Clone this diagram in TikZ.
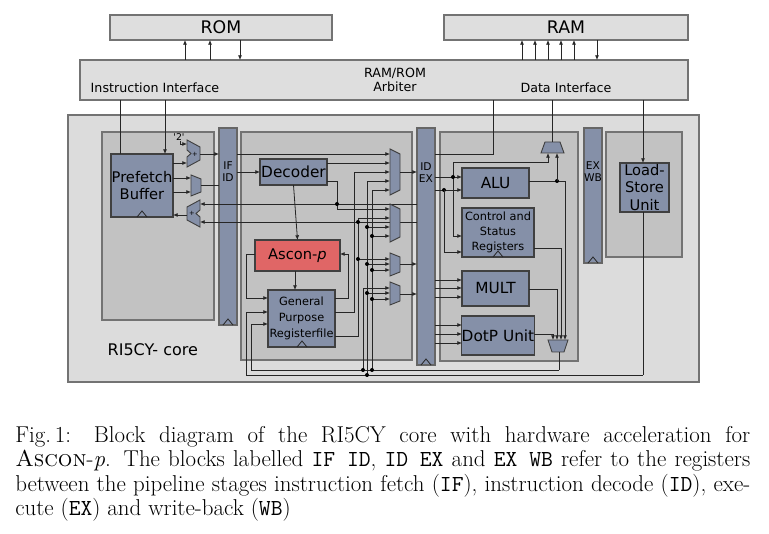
\documentclass[tikz,border=0pt]{standalone}
\usepackage{fontspec}
\newfontfamily\dv{DejaVu Sans}
\usetikzlibrary{arrows.meta}
\definecolor{blk}{HTML}{8590A8}
\definecolor{stg}{HTML}{C2C2C2}
\definecolor{core}{HTML}{DCDCDC}
\definecolor{asc}{HTML}{E06666}
\definecolor{mem}{HTML}{DEDEDE}
\begin{document}
\begin{tikzpicture}[x=0.75pt,y=-0.75pt,
  blkst/.style={draw=black!75,fill=blk,line width=0.8pt,inner sep=0pt,outer sep=0pt,align=center,font=\dv\fontsize{10}{12}\selectfont},
  regst/.style={draw=black!60,fill=blk,line width=0.8pt,inner sep=0pt,outer sep=0pt},
  stgst/.style={draw=black!55,fill=stg,line width=0.8pt,inner sep=0pt,outer sep=0pt},
  memst/.style={draw=black!55,fill=mem,line width=0.8pt,inner sep=0pt,outer sep=0pt,font=\dv\fontsize{13}{15}\selectfont},
  w/.style={line width=0.6pt,black!85},
  a/.style={w,-{Latex[length=3.5pt,width=3pt]}},
  mx/.style={draw=black!75,fill=blk,line width=0.7pt},
  dot/.style={circle,fill=black,inner sep=0pt,minimum size=3pt},
  lbl/.style={font=\dv\fontsize{8}{9}\selectfont,align=center,inner sep=0pt}]
\newcommand\bx[7]{\node[#6,minimum width={(#4-#2)*0.75pt},minimum height={(#5-#3)*0.75pt}] (#1) at ({(#2+#4)/2},{(#3+#5)/2}) {#7};}
\newcommand\clk[2]{\draw[w] (#1-5,#2) -- (#1,#2-6) -- (#1+5,#2);}
\useasboundingbox (0,0) rectangle (769,534);
\fill[white] (0,0) rectangle (769,534);
% memories
\bx{rom}{110}{15}{332}{40}{memst}{ROM}
\bx{ram}{444}{15}{688}{40}{memst}{RAM}
\bx{arb}{80}{60}{688}{100}{memst}{}
\node[lbl,font=\dv\fontsize{9.5}{11}\selectfont] at (395,80) {RAM/ROM\\Arbiter};
\node[lbl,font=\dv\fontsize{9.5}{11}\selectfont] at (155,88) {Instruction Interface};
\node[lbl,font=\dv\fontsize{9.5}{11}\selectfont] at (566,88) {Data Interface};
\foreach \x in {185,210} \draw[a] (\x,60) -- (\x,40);
\draw[a] (240,40) -- (240,60);
\foreach \x in {522,535,548,561,574} \draw[a] (\x,60) -- (\x,40);
\draw[a] (597,40) -- (597,60);
% core
\bx{core}{68}{115}{699}{382}{stgst,fill=core}{}
\node[anchor=west,font=\dv\fontsize{12}{14}\selectfont] at (103,350) {RI5CY- core};
\bx{ifs}{102}{132}{214}{320}{stgst}{}
\bx{ids}{241}{132}{412}{360}{stgst}{}
\bx{exs}{440}{132}{578}{361}{stgst}{}
\bx{wbs}{606}{132}{682}{257}{stgst}{}
% pipeline registers
\bx{ifid}{219}{128}{237}{325}{regst}{}
\node[lbl] at (228,172) {IF\\ID};
\clk{228}{325}
\bx{idex}{417}{128}{435}{365}{regst}{}
\node[lbl] at (426,173) {ID\\EX};
\clk{426}{365}
\bx{exwb}{584}{128}{602}{263}{regst}{}
\node[lbl] at (593,172) {EX\\WB};
\clk{593}{263}
% blocks
\bx{pf}{111}{154}{173}{217}{blkst,font=\dv\fontsize{11}{13}\selectfont}{Prefetch\\Buffer}
\clk{142}{217}
\bx{dec}{260}{159}{327}{185}{blkst,font=\dv\fontsize{11.5}{13}\selectfont}{Decoder}
\bx{ascon}{255}{240}{340}{271}{blkst,fill=asc,font=\dv\fontsize{11}{13}\selectfont}{Ascon-\textit{p}}
\bx{gpr}{268}{290}{335}{347}{blkst,font=\dv\fontsize{8.5}{12}\selectfont}{General\\Purpose\\Registerfile}
\clk{302}{347}
\bx{alu}{462}{168}{529}{198}{blkst,font=\dv\fontsize{11.5}{13}\selectfont}{ALU}
\bx{csr}{462}{208}{534}{257}{blkst,font=\dv\fontsize{8.5}{11}\selectfont}{Control and\\Status\\Registers}
\clk{498}{257}
\bx{mult}{462}{271}{529}{306}{blkst,font=\dv\fontsize{11.5}{13}\selectfont}{MULT}
\bx{dotp}{462}{316}{534}{355}{blkst,font=\dv\fontsize{11.5}{13}\selectfont}{DotP Unit}
\bx{lsu}{620}{163}{669}{212}{blkst,font=\dv\fontsize{11}{13}\selectfont}{Load-\\Store\\Unit}
% IF stage wires
\draw[w] (120,100) -- (120,154);
\draw[a] (165,100) -- (165,154);
\draw[mx] (187,140) -- (200,147) -- (200,160) -- (187,167) -- (187,157) -- (191,153.5) -- (187,150) -- cycle;
\node[font=\dv\fontsize{5}{6}\selectfont] at (195,154) {+};
\node[font=\dv\fontsize{7}{8}\selectfont] at (179,137) {'2'};
\draw[a] (180,141) -- (180,144) -- (187,144);
\draw[a] (173,163) -- (187,163);
\draw[a] (200,154) -- (219,154);
\draw[mx] (191,175) -- (201,179) -- (201,192) -- (191,196) -- cycle;
\draw[a] (173,178) -- (191,178);
\draw[a] (173,192) -- (191,192);
\draw[w] (201,185) -- (219,185);
\draw[mx] (200,200) -- (187,207) -- (187,220) -- (200,227) -- (200,217) -- (196,213.5) -- (200,210) -- cycle;
\node[font=\dv\fontsize{5}{6}\selectfont] at (192,213.5) {+};
\draw[a] (187,215) -- (173,215);
\draw[a] (417,204) -- (200,204);
\draw[a] (417,222) -- (200,222);
% ID stage wires
\draw[a] (237,172) -- (dec.west |- 0,172);
\draw[a] (dec.south) -- (ascon.north);
\draw[a] (ascon.south -| 295,0) -- (295,290);
\draw[a] (255,254) -- (246,254) -- (246,298) -- (268,298);
\draw[a] (335,298) -- (348,298) -- (348,254) -- (340,254);
\draw[a] (246,375) -- (246,312) -- (268,312);
\draw[a] (251,370) -- (251,324) -- (268,324);
% muxes in ID
\draw[mx] (390,149) -- (400,154) -- (400,190) -- (390,195) -- cycle;
\draw[mx] (390,204) -- (400,209) -- (400,237) -- (390,242) -- cycle;
\draw[mx] (390,253) -- (400,257) -- (400,272) -- (390,276) -- cycle;
\draw[mx] (390,282) -- (400,286) -- (400,301) -- (390,305) -- cycle;
\draw[a] (400,172) -- (417,172);
\draw[a] (400,264) -- (417,264);
\draw[a] (400,294) -- (417,294);
% mux1 inputs
\draw[a] (237,154) -- (390,154);
\draw[a] (327,163) -- (390,163);
\draw[a] (335,312) -- (354,312) -- (354,172) -- (390,172);
\draw[a] (367,377) -- (367,181) -- (390,181);
\draw[a] (372,370) -- (372,190) -- (390,190);
% mux2 inputs
\draw[a] (327,181) -- (337,181) -- (337,209) -- (390,209);
\node[dot] at (337,204) {};
\draw[a] (335,336) -- (358,336) -- (358,218) -- (390,218);
\node[dot] at (358,222) {};
\draw[a] (367,227) -- (390,227); \node[dot] at (367,227) {};
\draw[a] (372,236) -- (390,236); \node[dot] at (372,236) {};
% mux3 inputs
\draw[a] (358,259) -- (390,259); \node[dot] at (358,259) {};
\draw[a] (367,264) -- (390,264); \node[dot] at (367,264) {};
\draw[a] (372,270) -- (390,270); \node[dot] at (372,270) {};
% mux4 inputs
\draw[a] (363,370) -- (363,288) -- (390,288);
\draw[a] (367,293) -- (390,293); \node[dot] at (367,293) {};
\draw[a] (372,299) -- (390,299); \node[dot] at (372,299) {};
% bottom feedback
\draw[w] (246,375) -- (643,375);
\draw[w] (251,370) -- (559,370);
\node[dot] at (367,375) {};
\node[dot] at (372,370) {};
\node[dot] at (363,370) {};
% EX stage
\draw[w] (435,154) -- (493,154) -- (493,100);
\draw[mx] (545,142) -- (560,142) -- (564,153) -- (541,153) -- cycle;
\draw[w] (552,142) -- (552,100);
\draw[a] (453,236) -- (453,162) -- (548,162) -- (548,153);
\draw[a] (435,177) -- (462,177); \node[dot] at (453,177) {};
\draw[a] (453,236) -- (462,236);
\draw[a] (435,190) -- (462,190); \node[dot] at (444,190) {};
\draw[a] (444,190) -- (444,252) -- (462,252);
\draw[a] (529,181) -- (565,181) -- (565,340);
\node[dot] at (557,181) {};
\draw[a] (557,181) -- (557,153);
\draw[a] (534,248) -- (561,248) -- (561,340);
\foreach \y in {280,288,297} \draw[a] (435,\y) -- (462,\y);
\draw[a] (529,289) -- (557,289) -- (557,340);
\foreach \y in {325,334,343} \draw[a] (435,\y) -- (462,\y);
\draw[a] (534,334) -- (553,334) -- (553,340);
\draw[mx] (548,340) -- (568,340) -- (564,352) -- (552,352) -- cycle;
\draw[w] (559,352) -- (559,370);
% LSU
\draw[a] (643,100) -- (lsu.north -| 643,0);
\draw[w] (643,212) -- (643,375);
% caption
\node[anchor=north west,inner sep=0pt,text width=735*0.75pt,align=justify,font=\fontsize{17.2}{18.4}\selectfont] at (15,426) {Fig.\,1: Block diagram of the RI5CY core with hardware acceleration for\linebreak \textsc{Ascon}-\textit{p}. The blocks labelled \texttt{IF ID}, \texttt{ID EX} and \texttt{EX WB} refer to the registers\linebreak between the pipeline stages instruction fetch (\texttt{IF}), instruction decode (\texttt{ID}), exe-\linebreak cute (\texttt{EX}) and write-back (\texttt{WB})\par};
\end{tikzpicture}
\end{document}
